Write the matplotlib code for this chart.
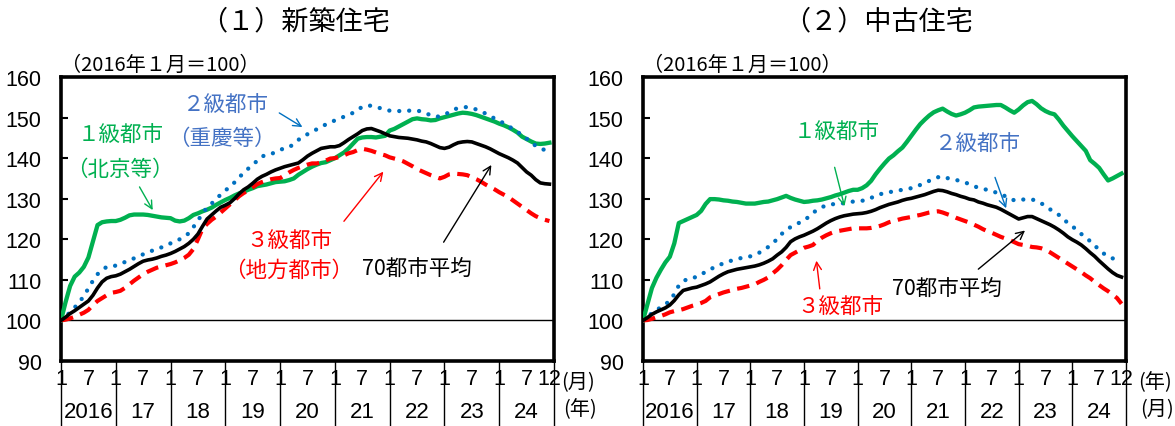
import matplotlib
matplotlib.use("Agg")
import matplotlib.pyplot as plt
import numpy as np

# ---- data: monthly index, 2016-01 = 100 (Jan 2016 .. Dec 2024) ----
months = np.arange(108)
year_labels = ["2016", "17", "18", "19", "20", "21", "22", "23", "24"]

new_tier1 = [
    100, 104.5, 108.5, 110.8, 111.8, 113.2, 115.5, 119.5, 123.5, 124.2, 124.4, 124.5,
    124.5, 124.8, 125.3, 125.9, 126.1, 126.1, 126.1, 126.0, 125.8, 125.6, 125.4, 125.3,
    125.2, 124.6, 124.4, 124.6, 125.2, 126.0, 126.4, 126.9, 127.3, 127.8, 128.5, 129.1,
    129.7, 130.2, 130.8, 131.3, 131.7, 132.2, 132.6, 133.1, 133.3, 133.5, 133.8, 134.1,
    134.2, 134.3, 134.6, 135.0, 135.9, 136.6, 137.3, 137.9, 138.4, 138.8, 139.0, 139.5,
    140.0, 140.7, 141.4, 142.4, 143.6, 144.8, 145.1, 145.2, 145.2, 145.1, 145.3, 145.5,
    146.8, 147.2, 147.8, 148.4, 149.0, 149.6, 149.8, 149.6, 149.5, 149.3, 149.4, 149.8,
    150.1, 150.4, 150.7, 151.0, 151.2, 151.1, 150.9, 150.6, 150.2, 149.8, 149.4, 149.0,
    148.5, 148.1, 147.6, 147.0, 146.3, 145.3, 144.7, 144.1, 143.6, 143.5, 143.6, 143.8,
]
new_tier2 = [
    100, 101.0, 102.0, 103.2, 104.5, 106.0, 107.9, 109.8, 111.4, 112.4, 113.2, 113.4,
    113.5, 113.9, 114.4, 114.9, 115.3, 115.8, 116.3, 116.8, 117.2, 117.6, 118.0, 118.4,
    119.0, 119.5, 120.0, 120.6, 121.5, 123.0, 124.6, 126.4, 127.8, 128.8, 130.0, 131.0,
    132.0, 133.0, 134.0, 135.2, 136.4, 137.4, 138.3, 139.4, 140.4, 140.8, 141.0, 141.5,
    142.0, 142.5, 142.7, 143.5, 144.5, 145.3, 145.9, 146.5, 147.1, 147.7, 148.3, 148.8,
    149.3, 149.8, 150.2, 150.6, 151.2, 152.0, 152.6, 153.0, 152.9, 152.6, 152.3, 152.0,
    151.7, 151.6, 151.6, 151.7, 151.7, 151.7, 151.7, 151.5, 151.0, 150.6, 150.2, 150.3,
    150.7, 151.3, 152.0, 152.3, 152.5, 152.6, 152.3, 152.0, 151.5, 151.0, 150.3, 149.8,
    149.2, 148.6, 147.9, 147.2, 146.5, 145.6, 144.8, 144.0, 143.0, 142.4, 142.0, 142.2,
]
new_tier3 = [
    100, 100.2, 100.5, 100.9, 101.4, 101.9, 102.6, 103.8, 104.8, 105.5, 106.2, 106.8,
    107.0, 107.3, 108.0, 108.9, 109.8, 110.6, 111.4, 112.0, 112.5, 113.0, 113.3, 113.6,
    113.9, 114.3, 114.8, 115.4, 116.2, 117.6, 120.0, 122.6, 123.8, 124.8, 125.6, 126.6,
    127.6, 128.6, 129.6, 130.6, 131.4, 132.0, 132.8, 133.6, 134.1, 134.5, 134.8, 135.0,
    135.1, 135.8, 136.5, 137.1, 137.6, 138.0, 138.4, 138.7, 138.7, 138.9, 139.4, 139.9,
    140.0, 140.3, 140.7, 141.2, 141.5, 142.0, 142.3, 142.1, 141.8, 141.4, 141.0, 140.7,
    140.2, 139.9, 139.6, 139.2, 138.6, 138.0, 137.3, 136.8, 136.3, 135.8, 135.4, 135.0,
    135.4, 136.0, 136.2, 136.1, 136.0, 135.8, 135.3, 134.8, 134.2, 133.5, 132.9, 132.3,
    131.6, 131.0, 130.4, 129.6, 128.8, 128.0, 127.2, 126.4, 125.7, 125.2, 124.8, 124.5,
]
new_avg70 = [
    100, 100.8, 101.7, 102.4, 103.2, 104.0, 104.8, 106.2, 108.0, 109.5, 110.4, 110.8,
    111.0, 111.4, 112.0, 112.6, 113.3, 114.0, 114.6, 114.9, 115.1, 115.4, 115.8, 116.1,
    116.5, 117.0, 117.6, 118.2, 119.0, 120.0, 121.3, 123.2, 125.0, 126.0, 127.0, 127.9,
    128.4, 129.0, 130.0, 131.2, 132.2, 132.9, 133.8, 134.8, 135.5, 136.0, 136.6, 137.1,
    137.5, 137.9, 138.2, 138.5, 138.8, 139.6, 140.5, 141.2, 141.8, 142.4, 142.6, 142.8,
    142.8, 143.1, 143.8, 144.6, 145.3, 146.0, 146.8, 147.2, 147.3, 146.9, 146.5, 146.0,
    145.5, 145.3, 145.1, 145.0, 144.9, 144.7, 144.5, 144.2, 144.0, 143.6, 143.1, 142.6,
    142.4, 142.7, 143.3, 143.8, 144.0, 144.1, 144.0, 143.6, 143.2, 142.8, 142.3, 141.7,
    141.1, 140.6, 140.1, 139.5, 138.8, 137.7, 136.6, 135.8, 134.7, 133.9, 133.7, 133.6,
]

used_tier1 = [
    100, 104.0, 108.0, 110.5, 112.5, 114.3, 115.7, 119.0, 124.0, 124.5, 125.0, 125.5,
    126.0, 127.0, 128.7, 129.9, 129.9, 129.8, 129.6, 129.5, 129.3, 129.2, 129.0, 128.8,
    128.8, 128.8, 129.0, 129.2, 129.3, 129.6, 129.9, 130.3, 130.7, 130.2, 129.8, 129.5,
    129.2, 129.3, 129.5, 129.6, 129.8, 130.1, 130.4, 130.8, 131.1, 131.5, 131.9, 132.2,
    132.2, 132.6, 133.3, 134.4, 136.0, 137.4, 138.7, 139.9, 140.7, 141.7, 142.6, 144.0,
    145.5, 147.0, 148.4, 149.5, 150.5, 151.3, 151.8, 152.2, 151.5, 150.9, 150.5, 150.8,
    151.2, 151.8, 152.5, 152.7, 152.8, 152.9, 153.0, 153.1, 153.1, 152.5, 151.8, 151.2,
    152.0, 153.0, 153.8, 154.1, 153.3, 152.3, 151.6, 151.1, 150.8, 149.5, 148.0, 146.7,
    145.4, 144.2, 143.0, 141.8, 139.5, 138.6, 137.6, 136.0, 134.5, 135.0, 135.6, 136.2,
]
used_tier2 = [
    100, 100.9, 101.8, 102.6, 103.2, 104.0, 104.8, 106.5, 108.6, 109.6, 110.3, 110.5,
    110.7, 111.3, 112.0, 112.6, 113.1, 113.6, 114.1, 114.5, 114.8, 115.1, 115.4, 115.6,
    115.8, 116.2, 116.7, 117.4, 118.1, 119.1, 120.0, 121.3, 122.3, 123.0, 123.6, 124.1,
    124.6, 125.5, 126.5, 127.3, 127.9, 128.4, 128.6, 128.7, 128.8, 128.9, 129.1, 129.3,
    129.4, 129.5, 129.7, 130.2, 130.7, 131.1, 131.4, 131.6, 131.8, 132.0, 132.2, 132.4,
    132.6, 132.9, 133.4, 133.9, 134.4, 134.9, 135.3, 135.5, 135.1, 134.8, 134.6, 134.4,
    134.0, 133.6, 133.1, 132.7, 132.4, 132.2, 131.9, 131.5, 131.2, 130.6, 130.1, 129.6,
    129.6, 129.8, 129.8, 129.8, 129.5, 128.9, 128.2, 127.4, 126.7, 126.0, 125.0, 124.0,
    123.2, 122.3, 121.3, 120.5, 119.5, 118.4, 117.5, 116.5, 115.8, 115.3, 115.0, 114.5,
]
used_tier3 = [
    100, 100.1, 100.4, 100.8, 101.1, 101.5, 102.0, 102.3, 102.5, 102.8, 103.2, 103.6,
    103.9, 104.3, 104.8, 105.7, 106.1, 106.5, 106.9, 107.2, 107.5, 107.8, 108.0, 108.3,
    108.6, 108.9, 109.5, 110.0, 110.6, 111.6, 112.5, 113.6, 114.9, 116.1, 116.7, 117.3,
    117.9, 118.2, 118.6, 119.6, 120.4, 121.0, 121.5, 121.9, 122.1, 122.3, 122.5, 122.7,
    122.7, 122.7, 122.7, 122.8, 123.0, 123.3, 123.7, 124.2, 124.5, 124.8, 125.1, 125.3,
    125.5, 125.8, 126.0, 126.3, 126.6, 126.8, 126.9, 126.6, 126.2, 125.8, 125.3, 124.9,
    124.5, 124.1, 123.6, 123.1, 122.5, 122.0, 121.6, 121.1, 120.6, 120.2, 119.8, 119.3,
    118.8, 118.6, 118.4, 118.1, 118.0, 117.8, 117.4, 116.8, 116.1, 115.4, 114.7, 114.0,
    113.3, 112.6, 111.9, 111.1, 110.4, 109.5, 108.7, 107.9, 107.2, 106.4, 105.5, 104.1,
]
used_avg70 = [
    100, 100.7, 101.5, 102.1, 102.6, 103.1, 103.8, 104.9, 106.3, 107.4, 107.7, 108.0,
    108.2, 108.6, 109.0, 109.5, 110.2, 110.9, 111.5, 112.0, 112.3, 112.6, 112.8, 113.0,
    113.2, 113.4, 113.7, 114.1, 114.6, 115.2, 116.1, 116.9, 118.0, 119.4, 120.1, 120.6,
    121.0, 121.5, 122.0, 122.6, 123.3, 124.0, 124.6, 125.1, 125.5, 125.8, 126.0, 126.2,
    126.3, 126.4, 126.6, 126.9, 127.3, 127.8, 128.2, 128.6, 128.9, 129.2, 129.6, 129.9,
    130.1, 130.4, 130.7, 131.0, 131.4, 131.8, 132.1, 132.0, 131.7, 131.3, 131.0, 130.6,
    130.3, 129.9, 129.7, 129.2, 128.9, 128.5, 128.2, 127.9, 127.4, 126.8, 126.2, 125.6,
    125.0, 125.3, 125.6, 125.6, 125.1, 124.6, 124.1, 123.6, 123.0, 122.3, 121.5, 120.6,
    119.9, 119.3, 118.6, 117.7, 116.7, 115.8, 114.7, 113.7, 112.7, 111.8, 111.1, 110.7,
]

GREEN = "#00B050"
BLUE = "#0070C0"
BLUE_TXT = "#4472C4"
RED = "#FF0000"
JP = ["Noto Sans CJK JP", "DejaVu Sans"]
NUM = ["Liberation Sans Narrow", "Liberation Sans", "Noto Sans CJK JP"]

W, H = 1175, 427
fig = plt.figure(figsize=(W / 100, H / 100), dpi=100)


def fx(px):
    return px / W


def fy(py):
    return 1 - py / H


def draw_panel(ax, t1, t2, t3, avg, unit_top, unit_bottom, unit_x):
    ax.axhline(100, color="black", lw=1.0, zorder=1)
    ax.plot(months, t1, color=GREEN, lw=3.1, solid_joinstyle="round", zorder=3)
    ax.plot(months, avg, color="black", lw=2.6, solid_joinstyle="round", zorder=4)
    ax.plot(months, t2, color=BLUE, lw=3.1, dashes=(0.01, 2.3),
            dash_capstyle="round", zorder=3)
    ax.plot(months, t3, color=RED, lw=3.0, dashes=(3.0, 1.8), zorder=3)

    ax.set_xlim(0, 108)
    ax.set_ylim(90, 160)
    ax.set_yticks(range(90, 161, 10))
    ax.tick_params(axis="y", direction="in", length=5, width=1.5, pad=14,
                   labelsize=15.5)
    for lab in ax.get_yticklabels():
        lab.set_family(NUM)
    for sp in ax.spines.values():
        sp.set_linewidth(2.6)

    # month labels (major) and year labels (minor)
    mpos = [12 * k + o for k in range(9) for o in (0, 6)] + [107]
    mlab = ["1", "7"] * 9 + ["12"]
    ax.set_xticks(mpos)
    ax.set_xticklabels(mlab)
    ax.set_xticks([12 * k + 6 for k in range(9)], minor=True)
    ax.set_xticklabels(year_labels, minor=True)
    ax.xaxis.remove_overlapping_locs = False
    ax.tick_params(axis="x", which="major", length=0, pad=5, labelsize=15.5)
    ax.tick_params(axis="x", which="minor", length=0, pad=28.5, labelsize=16)
    for lab in ax.get_xticklabels() + ax.get_xticklabels(minor=True):
        lab.set_family(NUM)

    # year separators below the axis
    for k in range(10):
        ax.plot([12 * k, 12 * k], [0, -0.3], color="black", lw=1.0,
                transform=ax.get_xaxis_transform(), clip_on=False)

    fig.text(fx(unit_x), fy(383), unit_top, ha="center", va="center",
             fontsize=14.5, family=JP)
    fig.text(fx(unit_x + 2), fy(410), unit_bottom, ha="center", va="center",
             fontsize=14.5, family=JP)


def label(ax, text, xy, color, size=15.5):
    ax.text(xy[0], xy[1], text, color=color, ha="center", va="center",
            fontsize=size, family=JP)


def arrow(ax, start, end, color):
    ax.annotate("", xy=end, xytext=start,
                arrowprops=dict(arrowstyle="->", color=color, lw=1.0,
                                mutation_scale=14))


# ---- panel (1) new homes ----
ax1 = fig.add_axes([fx(61), fy(362), fx(554) - fx(61), fy(78) - fy(362)])
draw_panel(ax1, new_tier1, new_tier2, new_tier3, new_avg70, "(月)", "(年)", 578)
label(ax1, "１級都市", (13.0, 145.8), GREEN)
label(ax1, "（北京等）", (12.8, 137.4), GREEN)
arrow(ax1, (16.9, 133.5), (20.4, 126.6), GREEN)
label(ax1, "２級都市", (35.9, 153.2), BLUE_TXT)
label(ax1, "（重慶等）", (35.3, 145.0), BLUE_TXT)
arrow(ax1, (47.3, 151.5), (53.4, 147.3), BLUE)
label(ax1, "３級都市", (49.9, 119.5), RED)
label(ax1, "（地方都市）", (49.9, 112.4), RED)
arrow(ax1, (61.6, 123.9), (71.0, 137.2), RED)
label(ax1, "70都市平均", (78.0, 113.0), "black")
arrow(ax1, (83.5, 118.7), (94.6, 138.9), "black")

# ---- panel (2) existing homes ----
ax2 = fig.add_axes([fx(643), fy(362), fx(1126) - fx(643), fy(78) - fy(362)])
draw_panel(ax2, used_tier1, used_tier2, used_tier3, used_avg70, "(年)", "(月)", 1155)
label(ax2, "１級都市", (43.4, 146.5), GREEN)
arrow(ax2, (42.7, 138.4), (45.2, 127.5), GREEN)
label(ax2, "２級都市", (74.7, 143.5), BLUE_TXT)
arrow(ax2, (78.5, 135.9), (81.4, 127.0), BLUE)
label(ax2, "３級都市", (44.0, 103.4), RED)
arrow(ax2, (39.6, 107.1), (38.7, 115.4), RED)
label(ax2, "70都市平均", (68.0, 108.0), "black")
arrow(ax2, (74.5, 112.2), (85.9, 122.6), "black")

# titles and base note
fig.text(fx(295), fy(22), "（１）新築住宅", ha="center", va="center",
         fontsize=19.5, family=JP)
fig.text(fx(878), fy(22), "（２）中古住宅", ha="center", va="center",
         fontsize=19.5, family=JP)
fig.text(fx(61), fy(65), "（2016年１月＝100）", ha="left", va="center",
         fontsize=14.5, family=JP)
fig.text(fx(643), fy(65), "（2016年１月＝100）", ha="left", va="center",
         fontsize=14.5, family=JP)

fig.savefig("out.png", dpi=100)
